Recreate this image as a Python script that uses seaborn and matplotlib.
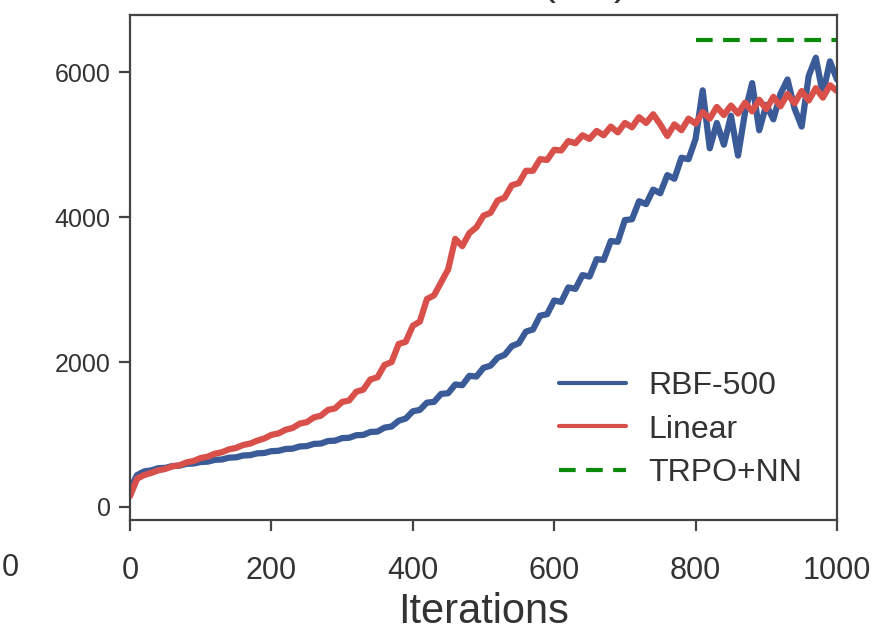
import numpy as np
import pandas as pd
import matplotlib
matplotlib.use("Agg")
import matplotlib.pyplot as plt
import seaborn as sns

iterations = list(range(0, 1001, 10))
linear = [150, 390, 440, 470, 505, 525, 560, 575, 615, 635,
          675, 695, 735, 755, 795, 815, 855, 875, 915, 945,
          995, 1015, 1065, 1090, 1150, 1170, 1235, 1260, 1340, 1360,
          1450, 1470, 1590, 1620, 1760, 1790, 1960, 2000, 2250, 2280,
          2500, 2560, 2870, 2920, 3100, 3280, 3700, 3600, 3780, 3860,
          4020, 4060, 4230, 4270, 4440, 4470, 4640, 4640, 4800, 4790,
          4930, 4920, 5050, 5020, 5130, 5080, 5190, 5130, 5250, 5170,
          5300, 5240, 5380, 5300, 5420, 5280, 5120, 5280, 5200, 5360,
          5290, 5450, 5360, 5520, 5410, 5540, 5430, 5580, 5460, 5620,
          5490, 5660, 5530, 5700, 5570, 5740, 5610, 5780, 5650, 5820,
          5740]
rbf = [250, 440, 490, 505, 535, 540, 565, 570, 595, 600,
       620, 625, 650, 655, 680, 685, 710, 715, 740, 745,
       770, 775, 800, 805, 835, 840, 870, 875, 910, 915,
       950, 955, 990, 995, 1035, 1040, 1095, 1110, 1190, 1220,
       1320, 1340, 1440, 1450, 1560, 1570, 1690, 1680, 1810, 1800,
       1920, 1950, 2060, 2100, 2220, 2260, 2420, 2450, 2640, 2660,
       2850, 2830, 3030, 3010, 3200, 3180, 3420, 3410, 3670, 3660,
       3960, 3970, 4220, 4180, 4380, 4330, 4580, 4530, 4820, 4800,
       5080, 5750, 4950, 5300, 5000, 5400, 4850, 5450, 5850, 5200,
       5550, 5350, 5700, 5900, 5500, 5250, 5950, 6200, 5700, 6150,
       5900]
trpo_x = [800, 1000]
trpo_y = [6440, 6440]

sns.set_style("ticks")
plt.rcParams['font.family'] = ['Liberation Sans', 'DejaVu Sans']

fig = plt.figure(figsize=(8.73, 6.35), dpi=100)
ax = fig.add_axes([130/873, 1-520/635, (837-130)/873, (520-15)/635])

blue = "#3A5B98"
red = "#D9504A"
green = "#0A8A0A"

df_rbf = pd.DataFrame({"Iterations": iterations, "Return": rbf})
df_lin = pd.DataFrame({"Iterations": iterations, "Return": linear})
df_trpo = pd.DataFrame({"Iterations": trpo_x, "Return": trpo_y})

sns.lineplot(data=df_rbf, x="Iterations", y="Return", ax=ax, color=blue, lw=4.5, label="RBF-500")
sns.lineplot(data=df_lin, x="Iterations", y="Return", ax=ax, color=red, lw=4.5, label="Linear")
sns.lineplot(data=df_trpo, x="Iterations", y="Return", ax=ax, color=green, lw=3.0, ls="--",
             label="TRPO+NN", dashes=False)
ax.lines[-1].set_dashes([4, 2.5])

ax.set_xlim(0, 1000)
ax.set_ylim(-180, 6790)
ax.set_xticks([0, 200, 400, 600, 800, 1000])
ax.set_yticks([0, 2000, 4000, 6000])
ax.set_xlabel("Iterations", fontsize=30, color="#333333", labelpad=4)
ax.set_ylabel("")
for s in ax.spines.values():
    s.set_linewidth(1.6)
    s.set_color("#444444")
ax.tick_params(axis="both", colors="#444444", length=8, width=1.6,
               labelcolor="#333333")
ax.tick_params(axis="x", labelsize=22, pad=18)
ax.tick_params(axis="y", labelsize=18, pad=6)

leg = ax.legend(loc="lower left", bbox_to_anchor=(0.589, 0.038), borderaxespad=0,
                frameon=False, fontsize=23, handlelength=2.1, labelspacing=0.42,
                handletextpad=0.7)
for t in leg.get_texts():
    t.set_color("#333333")
for h in leg.get_lines()[:2]:
    h.set_linewidth(3.0)

fig.text(10/873, 1-568/635, "0", fontsize=22, color="#333333", ha="center", va="center")
fig.text(585/873, 1.0 + 17/635, "(     )", fontsize=30, color="#333333", ha="center", va="center")

fig.savefig("out.png", dpi=100)
